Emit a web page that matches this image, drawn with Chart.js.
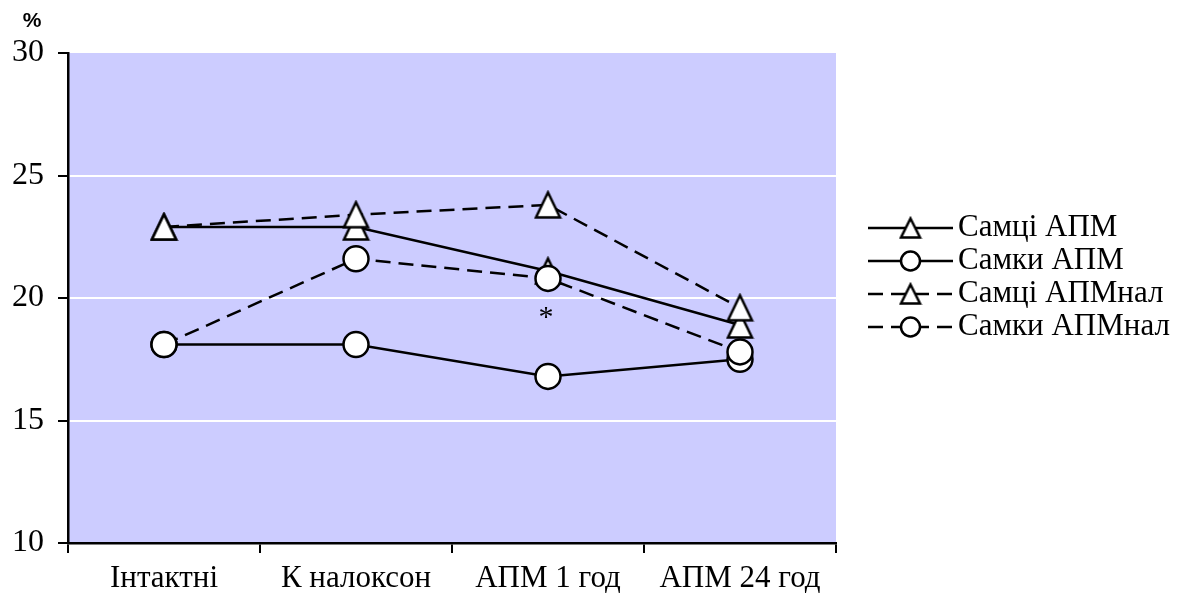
<!DOCTYPE html>
<html>
<head>
<meta charset="utf-8">
<script src="https://cdn.jsdelivr.net/npm/chart.js@4/dist/chart.umd.min.js"></script>
<style>
  body { margin: 0; background: #fff; }
  #wrap { width: 1187px; height: 605px; }
</style>
</head>
<body>
<div id="wrap"><canvas id="Percent-Chart"></canvas></div>
<script>
const labels = ["Інтактні", "К налоксон", "АПМ 1 год", "АПМ 24 год"];

const samtsiApm = [22.9, 22.9, 21.1, 18.9];
const samkyApm = [18.1, 18.1, 16.8, 17.5];
const samtsiApmNal = [22.9, 23.4, 23.8, 19.6];
const samkyApmNal = [18.1, 21.6, 20.8, 17.8];

// asterisk under "АПМ 1 год"
const starIndex = 2;
const starValue = 19.5;

const serif = "'Liberation Serif', 'Times New Roman', serif";
const dash = [15, 8];

// triangle marker centred on its box, like the spreadsheet one
function makeTriangle(w, h, lw) {
  const c = document.createElement("canvas");
  c.width = w + lw * 2;
  c.height = h + lw * 2;
  const g = c.getContext("2d");
  g.lineWidth = lw;
  g.lineJoin = "miter";
  g.strokeStyle = "#000";
  g.fillStyle = "#fff";
  g.beginPath();
  g.moveTo(c.width / 2, lw);
  g.lineTo(lw + w, lw + h);
  g.lineTo(lw, lw + h);
  g.closePath();
  g.fill();
  g.stroke();
  return c;
}

const triBig = makeTriangle(24, 25, 2.5);
const triSmall = makeTriangle(19, 19, 2.5);

function series(label, values, style, dashed, order) {
  return {
    label: label,
    data: values,
    borderColor: "#000",
    borderWidth: 2.5,
    borderDash: dashed ? dash : [],
    backgroundColor: "#fff",
    pointStyle: style === "triangle" ? triBig : "circle",
    pointRadius: 12.5,
    pointBorderWidth: 2.5,
    pointBorderColor: "#000",
    pointBackgroundColor: "#fff",
    tension: 0,
    fill: false,
    order: order,
    marker: style,
  };
}

const data = {
  labels: labels,
  datasets: [
    series("Самці АПМ", samtsiApm, "triangle", false, 3),
    series("Самки АПМ", samkyApm, "circle", false, 2),
    series("Самці АПМнал", samtsiApmNal, "triangle", true, 1),
    series("Самки АПМнал", samkyApmNal, "circle", true, 0),
  ],
};

// lavender plot area
const plotBackground = {
  id: "plotBackground",
  beforeDraw(chart) {
    const { ctx, chartArea: a } = chart;
    ctx.save();
    ctx.fillStyle = "#CCCCFF";
    ctx.fillRect(a.left, a.top, a.right - a.left, a.bottom - a.top);
    ctx.restore();
  },
};

// "%" unit, asterisk and the legend with line + marker samples
const extras = {
  id: "extras",
  afterDraw(chart) {
    const { ctx, chartArea: a, scales } = chart;
    ctx.save();
    ctx.fillStyle = "#000";
    ctx.font = "bold 21px 'Liberation Sans', Arial, sans-serif";
    ctx.textAlign = "center";
    ctx.textBaseline = "middle";
    ctx.fillText("%", 32, 21);

    ctx.font = "30px " + serif;
    ctx.textBaseline = "middle";
    ctx.fillText("*", scales.x.getPixelForValue(starIndex) - 2, scales.y.getPixelForValue(starValue) + 8);

    const x0 = a.right + 32;
    const x1 = x0 + 85;
    const xm = (x0 + x1) / 2;
    chart.data.datasets.forEach((ds, i) => {
      const y = 228 + i * 33;
      ctx.strokeStyle = "#000";
      ctx.lineWidth = 2.5;
      ctx.setLineDash(ds.borderDash);
      ctx.beginPath();
      ctx.moveTo(x0, y);
      ctx.lineTo(x1, y);
      ctx.stroke();
      ctx.setLineDash([]);
      if (ds.marker === "triangle") {
        ctx.drawImage(triSmall, xm - triSmall.width / 2, y - triSmall.height / 2);
      } else {
        ctx.fillStyle = "#fff";
        Chart.helpers.drawPoint(ctx, { pointStyle: "circle", radius: 9.5, borderWidth: 2.5, rotation: 0 }, xm, y);
      }
      ctx.fillStyle = "#000";
      ctx.font = "31px " + serif;
      ctx.textAlign = "left";
      ctx.textBaseline = "middle";
      ctx.fillText(ds.label, x1 + 5, y);
    });
    ctx.restore();
  },
};

const config = {
  type: "line",
  data: data,
  options: {
    responsive: true,
    maintainAspectRatio: false,
    animation: false,
    layout: { padding: { top: 53, right: 351, left: 0, bottom: 0 } },
    plugins: {
      legend: { display: false },
      tooltip: { enabled: false },
    },
    scales: {
      x: {
        offset: true,
        grid: {
          offset: true,
          drawOnChartArea: false,
          drawTicks: true,
          tickLength: 10,
          color: "#000",
          lineWidth: 2,
        },
        border: { display: true, color: "#000", width: 2.5 },
        ticks: { color: "#000", font: { family: serif, size: 31 }, padding: 7, maxRotation: 0 },
        afterFit(scale) { scale.height = 62; },
      },
      y: {
        min: 10,
        max: 30,
        ticks: { stepSize: 5, color: "#000", font: { family: serif, size: 32 }, padding: 14 },
        grid: {
          color: (c) => (c.tick && (c.tick.value === 10 || c.tick.value === 30)) ? "rgba(0,0,0,0)" : "#fff",
          tickColor: "#000",
          lineWidth: 2,
          tickLength: 10,
        },
        border: { display: true, color: "#000", width: 2.5 },
        afterFit(scale) { scale.width = 68; },
      },
    },
  },
  plugins: [plotBackground, extras],
};

let myChart = new Chart(document.getElementById("Percent-Chart"), config);
</script>
</body>
</html>
